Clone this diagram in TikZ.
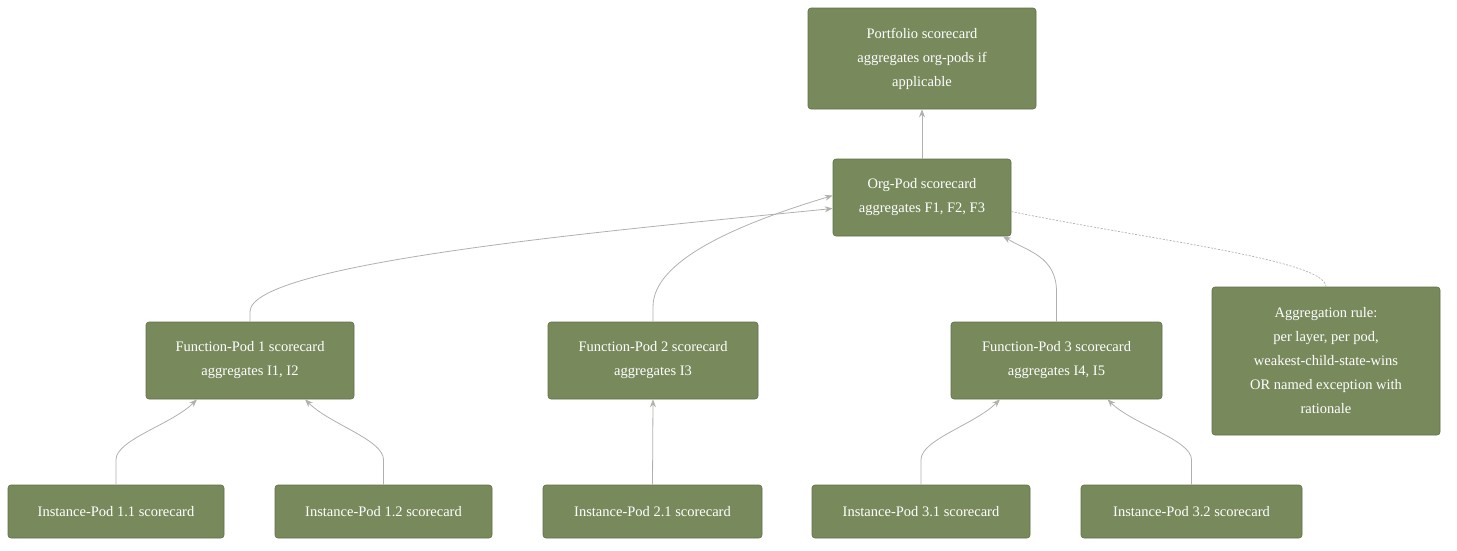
\documentclass[tikz,border=0pt]{standalone}
\usepackage{fontspec}
\setmainfont{Liberation Serif}
\usetikzlibrary{arrows.meta}
\definecolor{boxc}{HTML}{788A5C}
\definecolor{boxd}{HTML}{5F7048}
\definecolor{edge}{HTML}{B0B0AC}
\begin{document}
\begin{tikzpicture}[x=1pt,y=-1pt,
 box/.style={draw=boxd,fill=boxc,rounded corners=3pt,text=white,align=center,font=\fontsize{14.5}{24}\selectfont,inner sep=0pt,line width=0.6pt},
 arr/.style={draw=edge,line width=0.8pt,-{Stealth[length=8pt,width=6pt]}}]
\useasboundingbox (0,0) rectangle (1457,550);
\node[box,minimum width=228pt,minimum height=101pt] (port) at (922,58.5) {Portfolio scorecard\\aggregates org-pods if\\applicable};
\node[box,minimum width=178pt,minimum height=77pt] (org) at (922,197.5) {Org-Pod scorecard\\aggregates F1, F2, F3};
\node[box,minimum width=208pt,minimum height=77pt] (f1) at (250,360.5) {Function-Pod 1 scorecard\\aggregates I1, I2};
\node[box,minimum width=210pt,minimum height=77pt] (f2) at (653,360.5) {Function-Pod 2 scorecard\\aggregates I3};
\node[box,minimum width=211pt,minimum height=77pt] (f3) at (1056.5,360.5) {Function-Pod 3 scorecard\\aggregates I4, I5};
\node[box,minimum width=228pt,minimum height=148pt] (agg) at (1326,361) {Aggregation rule:\\per layer, per pod,\\weakest-child-state-wins\\OR named exception with\\rationale};
\node[box,minimum width=216pt,minimum height=53pt] (i11) at (116,511.5) {Instance-Pod 1.1 scorecard};
\node[box,minimum width=217pt,minimum height=53pt] (i12) at (383.5,511.5) {Instance-Pod 1.2 scorecard};
\node[box,minimum width=219pt,minimum height=53pt] (i21) at (652.5,511.5) {Instance-Pod 2.1 scorecard};
\node[box,minimum width=218pt,minimum height=53pt] (i31) at (921,511.5) {Instance-Pod 3.1 scorecard};
\node[box,minimum width=221pt,minimum height=53pt] (i32) at (1191.5,511.5) {Instance-Pod 3.2 scorecard};
\draw[arr] (i11.north) -- ++(0,-25) .. controls ++(0,-20) and ++(-25,25) .. ([xshift=-53pt]f1.south);
\draw[arr] (i12.north) -- ++(0,-25) .. controls ++(0,-20) and ++(25,25) .. ([xshift=55pt]f1.south);
\draw[arr] (i21.north) -- (f2.south);
\draw[arr] (i31.north) -- ++(0,-25) .. controls ++(0,-20) and ++(-25,25) .. ([xshift=79pt]i31.north |- f3.south);
\draw[arr] (i32.north) -- ++(0,-25) .. controls ++(0,-20) and ++(25,25) .. ([xshift=51pt]f3.south);
\draw[arr] (f1.north) -- ++(0,-10) .. controls ++(0,-50) and ++(-200,20) .. ([yshift=-11pt]org.west);
\draw[arr] (f2.north) -- ++(0,-15) .. controls ++(0,-45) and ++(-100,30) .. ([yshift=2pt]org.west);
\draw[arr] (f3.north) -- ++(0,-30) .. controls ++(0,-35) and ++(25,15) .. ([xshift=81pt]org.south);
\draw[arr] (org.north) -- (port.south);
\draw[edge,line width=0.7pt,dash pattern=on 2pt off 1.5pt] ([yshift=-14pt]org.east) .. controls (1150,240) and (1326,260) .. (agg.north);
\end{tikzpicture}
\end{document}
